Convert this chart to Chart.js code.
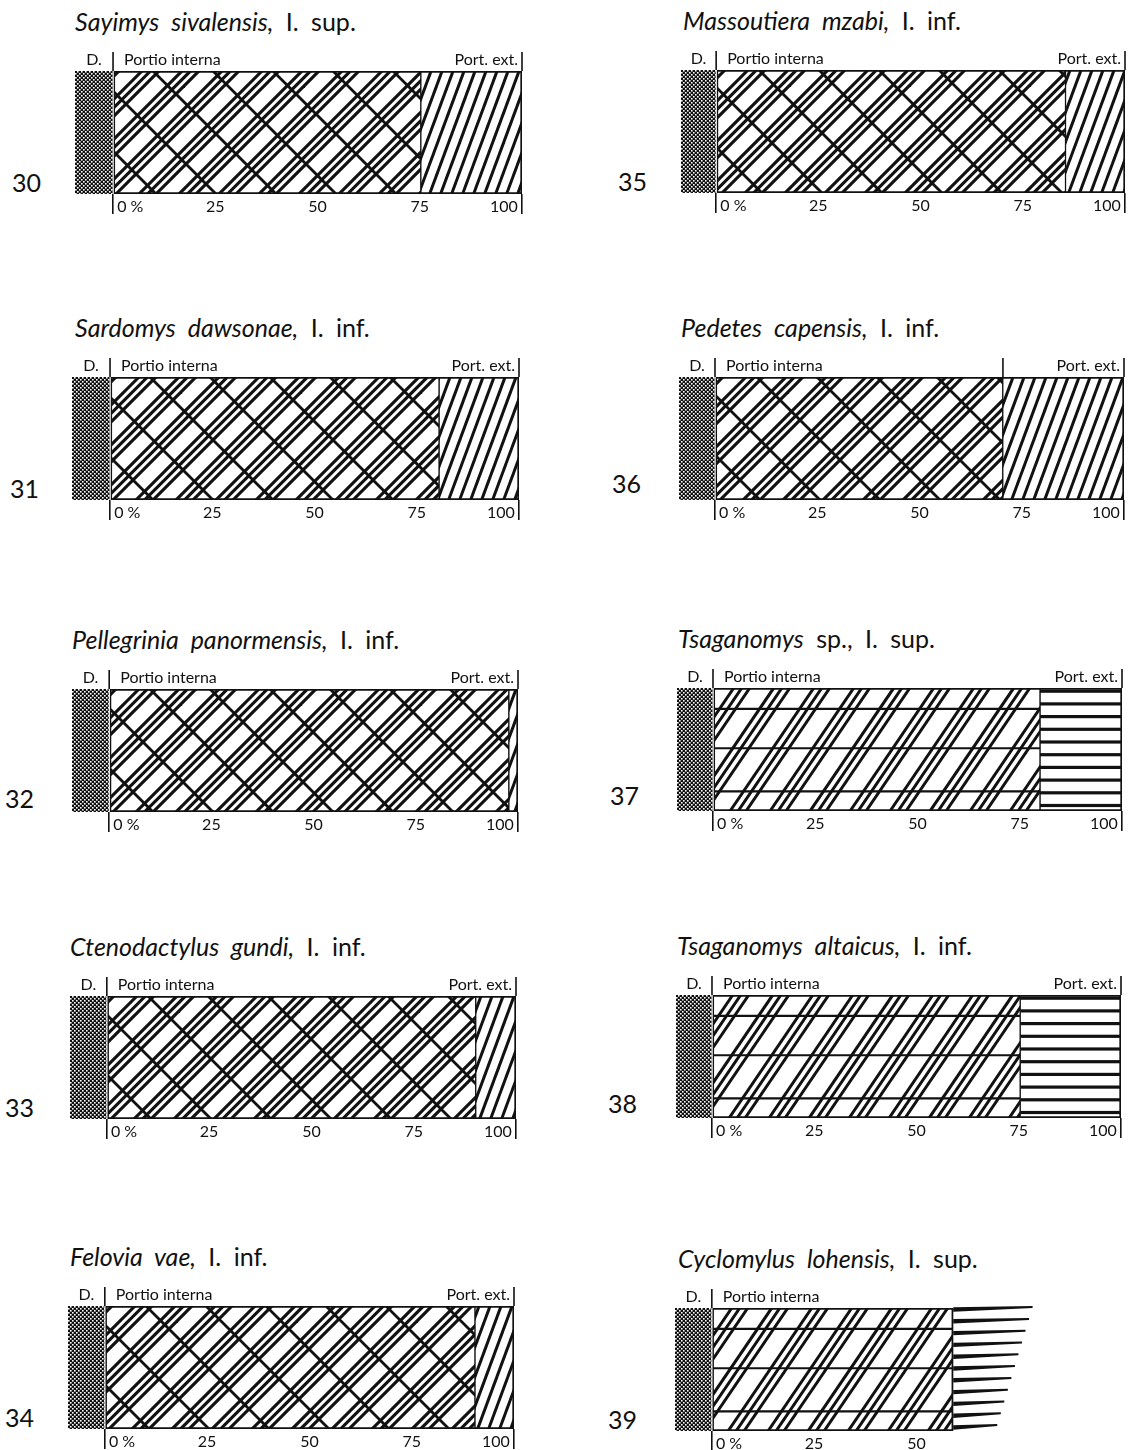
<!DOCTYPE html>
<html>
<head>
<meta charset="utf-8">
<script src="https://cdn.jsdelivr.net/npm/chart.js@4.4.1/dist/chart.umd.min.js"></script>
<style>
  body { margin: 0; background: #fff; width: 1136px; height: 1450px; position: relative; overflow: hidden;
         font-family: Lato, "Open Sans", sans-serif; color: #111; }
  .title { position: absolute; font-size: 25px; line-height: 25px; white-space: nowrap; word-spacing: 6px; }
  .num { position: absolute; font-size: 25px; line-height: 25px; }
  canvas { position: absolute; }
</style>
</head>
<body>
<script>
// --- data ---
const panelNumbers = ['30', '31', '32', '33', '34', '35', '36', '37', '38', '39'];
const taxa = ['Sayimys sivalensis,', 'Sardomys dawsonae,', 'Pellegrinia panormensis,', 'Ctenodactylus gundi,',
  'Felovia vae,', 'Massoutiera mzabi,', 'Pedetes capensis,', 'Tsaganomys', 'Tsaganomys altaicus,', 'Cyclomylus lohensis,'];
const specimens = ['I. sup.', 'I. inf.', 'I. inf.', 'I. inf.', 'I. inf.', 'I. inf.', 'I. inf.', 'sp., I. sup.', 'I. inf.', 'I. sup.'];
const dentinWidth = [9.3, 9.3, 9.1, 9.0, 9.0, 8.6, 8.8, 8.8, 8.8, 9.0];   // D. block, drawn left of 0 %
const internaEnd = [75.3, 80.5, 97.8, 90.2, 90.5, 85.5, 70.4, 80.0, 75.4, 59.0];
const externaEnd = [100, 100, 100, 100, 100, 100, 100, 100, 100, null];
const externaFan39 = [78.5, 69.5];   // 39: ragged outer portion, top edge / bottom edge
const internaStyle = ['cross', 'cross', 'cross', 'cross', 'cross', 'cross', 'cross', 'band', 'band', 'band'];
const externaStyle = ['diag', 'diag', 'diag', 'diag', 'diag', 'diag', 'diag', 'rule', 'rule', 'rule'];
const extDivider = [false, false, false, false, false, false, true, false, false, false];
const axisEnd = [100, 100, 100, 100, 100, 100, 100, 100, 100, 50];
const tickValues = [0, 25, 50, 75, 100];
const tickLabels = ['0 %', '25', '50', '75', '100'];
const segmentLabels = ['D.', 'Portio interna', 'Port. ext.'];

// --- page layout (pixels) ---
const dLeft = [75, 72, 72, 70, 68, 681, 679, 677, 676, 675];
const barTop = [71, 377, 689, 996, 1306, 70, 377, 688, 995, 1308];
const numX = [12, 10, 5, 5, 5, 618, 612, 610, 608, 608];
const numDrop = [0, 0, -2, 0, 0, 0, -5, -4, -3, 0];
const titleX = [75, 75, 72, 70, 70, 683, 681, 678, 677, 678];
const BAR_H = 123, PX_PER_PCT = 4.09;
const PAD_L = 10, PAD_R = 12, PAD_T = 28, AXIS_H = 34;
const INK = '#111';

function makeTile(kind, area, h) {
  const t = document.createElement('canvas');
  const W = { dots: 4, cross: 120, diag: 44, band: 120, rule: 8 }[kind];
  t.width = W;
  t.height = kind === 'dots' ? 4 : h;
  const g = t.getContext('2d');
  g.fillStyle = '#fff';
  g.fillRect(0, 0, W, t.height);
  g.strokeStyle = INK;
  if (kind === 'dots') {
    g.fillStyle = INK;
    g.fillRect(0, 0, 4, 4);
    g.fillStyle = '#fff';
    g.fillRect(0, 0, 1.6, 1.6);
    g.fillRect(2, 2, 1.6, 1.6);
    return t;
  }
  const slant = (k, period, offsets, lw, up) => {
    g.lineWidth = lw;
    const span = h * k;
    for (let c = -Math.ceil(span / period + 1) * period; c < W + period; c += period) {
      offsets.forEach(o => {
        g.beginPath();
        if (up) { g.moveTo(c + o, h); g.lineTo(c + o + span, 0); }
        else { g.moveTo(c + o, 0); g.lineTo(c + o + span, h); }
        g.stroke();
      });
    }
  };
  const level = (ys, lw) => {
    g.lineWidth = lw;
    ys.forEach(y => { g.beginPath(); g.moveTo(0, y); g.lineTo(W, y); g.stroke(); });
  };
  const bh = area.bottom - area.top;
  if (kind === 'cross') {
    slant(1, 40, [0, 8.5, 17], 3.1, true);
    slant(1, 60, [0], 2.7, false);
  } else if (kind === 'diag') {
    slant(0.37, 11, [0], 3.0, true);
  } else if (kind === 'band') {
    slant(0.68, 40, [0, 8, 16], 3.0, true);
    level([0.17, 0.49, 0.84].map(f => area.top + f * bh), 2.2);
  } else if (kind === 'rule') {
    const ys = [];
    for (let y = area.top + 3.2; y < area.bottom - 2; y += 12.7) ys.push(y);
    level(ys, 3.2);
  }
  return t;
}

function pattern(chart, kind) {
  const area = chart.chartArea;
  if (!area) return '#fff';
  chart.$pat = chart.$pat || {};
  if (!chart.$pat[kind]) chart.$pat[kind] = chart.ctx.createPattern(makeTile(kind, area, chart.height), 'repeat');
  return chart.$pat[kind];
}

// labels and dividers above the bar, plus the frayed outer portion of 39
const panelMarks = {
  id: 'panelMarks',
  afterDatasetsDraw(chart, args, opts) {
    const i = opts.index;
    const { ctx, chartArea: a, scales: { x } } = chart;
    const x0 = x.getPixelForValue(0);
    ctx.save();
    ctx.strokeStyle = INK;
    ctx.lineWidth = 1.6;
    const up = [0];
    if (externaEnd[i] != null) up.push(100);
    if (extDivider[i]) up.push(internaEnd[i]);
    up.forEach(v => {
      const px = x.getPixelForValue(v);
      ctx.beginPath(); ctx.moveTo(px, a.top); ctx.lineTo(px, a.top - 19); ctx.stroke();
    });
    ctx.fillStyle = INK;
    ctx.font = '16px Lato';
    ctx.textBaseline = 'alphabetic';
    const ly = a.top - 6.5;
    ctx.textAlign = 'center';
    ctx.fillText(segmentLabels[0], (x.getPixelForValue(-dentinWidth[i]) + x0) / 2, ly);
    ctx.textAlign = 'left';
    ctx.fillText(segmentLabels[1], x0 + 11, ly);
    if (externaEnd[i] != null) {
      ctx.textAlign = 'right';
      ctx.fillText(segmentLabels[2], x.getPixelForValue(100) - 4, ly);
    } else {
      const xl = x.getPixelForValue(internaEnd[i]);
      const xt = x.getPixelForValue(externaFan39[0]);
      const xb = x.getPixelForValue(externaFan39[1]);
      const h = a.bottom - a.top;
      for (let y = a.top + 1.5; y < a.bottom; y += 11.8) {
        const xr = xt + (xb - xt) * (y - a.top) / h;
        ctx.beginPath();
        ctx.moveTo(xl, y - 2.2);
        ctx.lineTo(xr, y - 3.4);
        ctx.lineTo(xr, y - 1.4);
        ctx.lineTo(xl, y + 2.2);
        ctx.closePath();
        ctx.fill();
      }
    }
    ctx.restore();
  }
};

panelNumbers.forEach((num, i) => {
  const chartW = PX_PER_PCT * (100 + dentinWidth[i]);
  const cv = document.createElement('canvas');
  cv.width = Math.round(PAD_L + chartW + PAD_R);
  cv.height = PAD_T + BAR_H + AXIS_H;
  cv.style.left = (dLeft[i] - PAD_L) + 'px';
  cv.style.top = (barTop[i] - PAD_T) + 'px';
  document.body.appendChild(cv);

  const title = document.createElement('div');
  title.className = 'title';
  title.style.left = titleX[i] + 'px';
  title.style.top = (barTop[i] - 62) + 'px';
  const it = document.createElement('i');
  it.textContent = taxa[i];
  title.appendChild(it);
  title.appendChild(document.createTextNode(' ' + specimens[i]));
  document.body.appendChild(title);

  const n = document.createElement('div');
  n.className = 'num';
  n.textContent = num;
  n.style.left = numX[i] + 'px';
  n.style.top = (barTop[i] + BAR_H - 24 + numDrop[i]) + 'px';
  document.body.appendChild(n);

  const datasets = [
    { label: segmentLabels[0], data: [[-dentinWidth[i], 0]],
      backgroundColor: c => pattern(c.chart, 'dots'), borderWidth: 0 },
    { label: segmentLabels[1], data: [[0, internaEnd[i]]],
      backgroundColor: c => pattern(c.chart, internaStyle[i]), borderColor: INK,
      borderWidth: { top: 2.2, bottom: 2.2, left: 1.6, right: externaEnd[i] != null ? 1.2 : 2 }, borderSkipped: false },
  ];
  if (externaEnd[i] != null) {
    datasets.push({ label: segmentLabels[2], data: [[internaEnd[i], externaEnd[i]]],
      backgroundColor: c => pattern(c.chart, externaStyle[i]), borderColor: INK,
      borderWidth: { top: 2.2, bottom: 2.2, left: 0.8, right: 2 }, borderSkipped: false });
  }

  const ticksHere = tickValues.filter(v => v <= axisEnd[i]);
  if (axisEnd[i] < 100) ticksHere.push(100);
  const marked = c => c.tick && (c.tick.value === 0 || (c.tick.value === 100 && axisEnd[i] === 100));

  new Chart(cv, {
    type: 'bar',
    data: { labels: [''], datasets },
    plugins: [panelMarks],
    options: {
      indexAxis: 'y',
      responsive: false,
      animation: false,
      events: [],
      layout: { padding: { left: PAD_L, right: PAD_R, top: PAD_T, bottom: 0 } },
      datasets: { bar: { barPercentage: 1, categoryPercentage: 1, grouped: false } },
      plugins: { legend: { display: false }, tooltip: { enabled: false }, panelMarks: { index: i } },
      scales: {
        y: { display: false },
        x: {
          type: 'linear',
          min: -dentinWidth[i],
          max: 100,
          afterBuildTicks: s => { s.ticks = ticksHere.map(v => ({ value: v })); },
          afterFit: s => { s.height = AXIS_H; },
          border: { display: false },
          grid: {
            drawOnChartArea: false,
            tickLength: 20,
            lineWidth: 1.6,
            color: c => marked(c) ? INK : 'rgba(0,0,0,0)',
            tickColor: c => marked(c) ? INK : 'rgba(0,0,0,0)',
          },
          ticks: {
            align: 'inner',
            padding: -17,
            color: INK,
            font: { family: 'Lato', size: 16 },
            callback: v => {
              const k = tickValues.indexOf(v);
              if (k < 0 || v > axisEnd[i]) return '';
              if (v === 0) return ' ' + tickLabels[k];
              if (v === 100) return tickLabels[k] + ' ';
              return tickLabels[k];
            },
          },
        },
      },
    },
  });
});
</script>
</body>
</html>
